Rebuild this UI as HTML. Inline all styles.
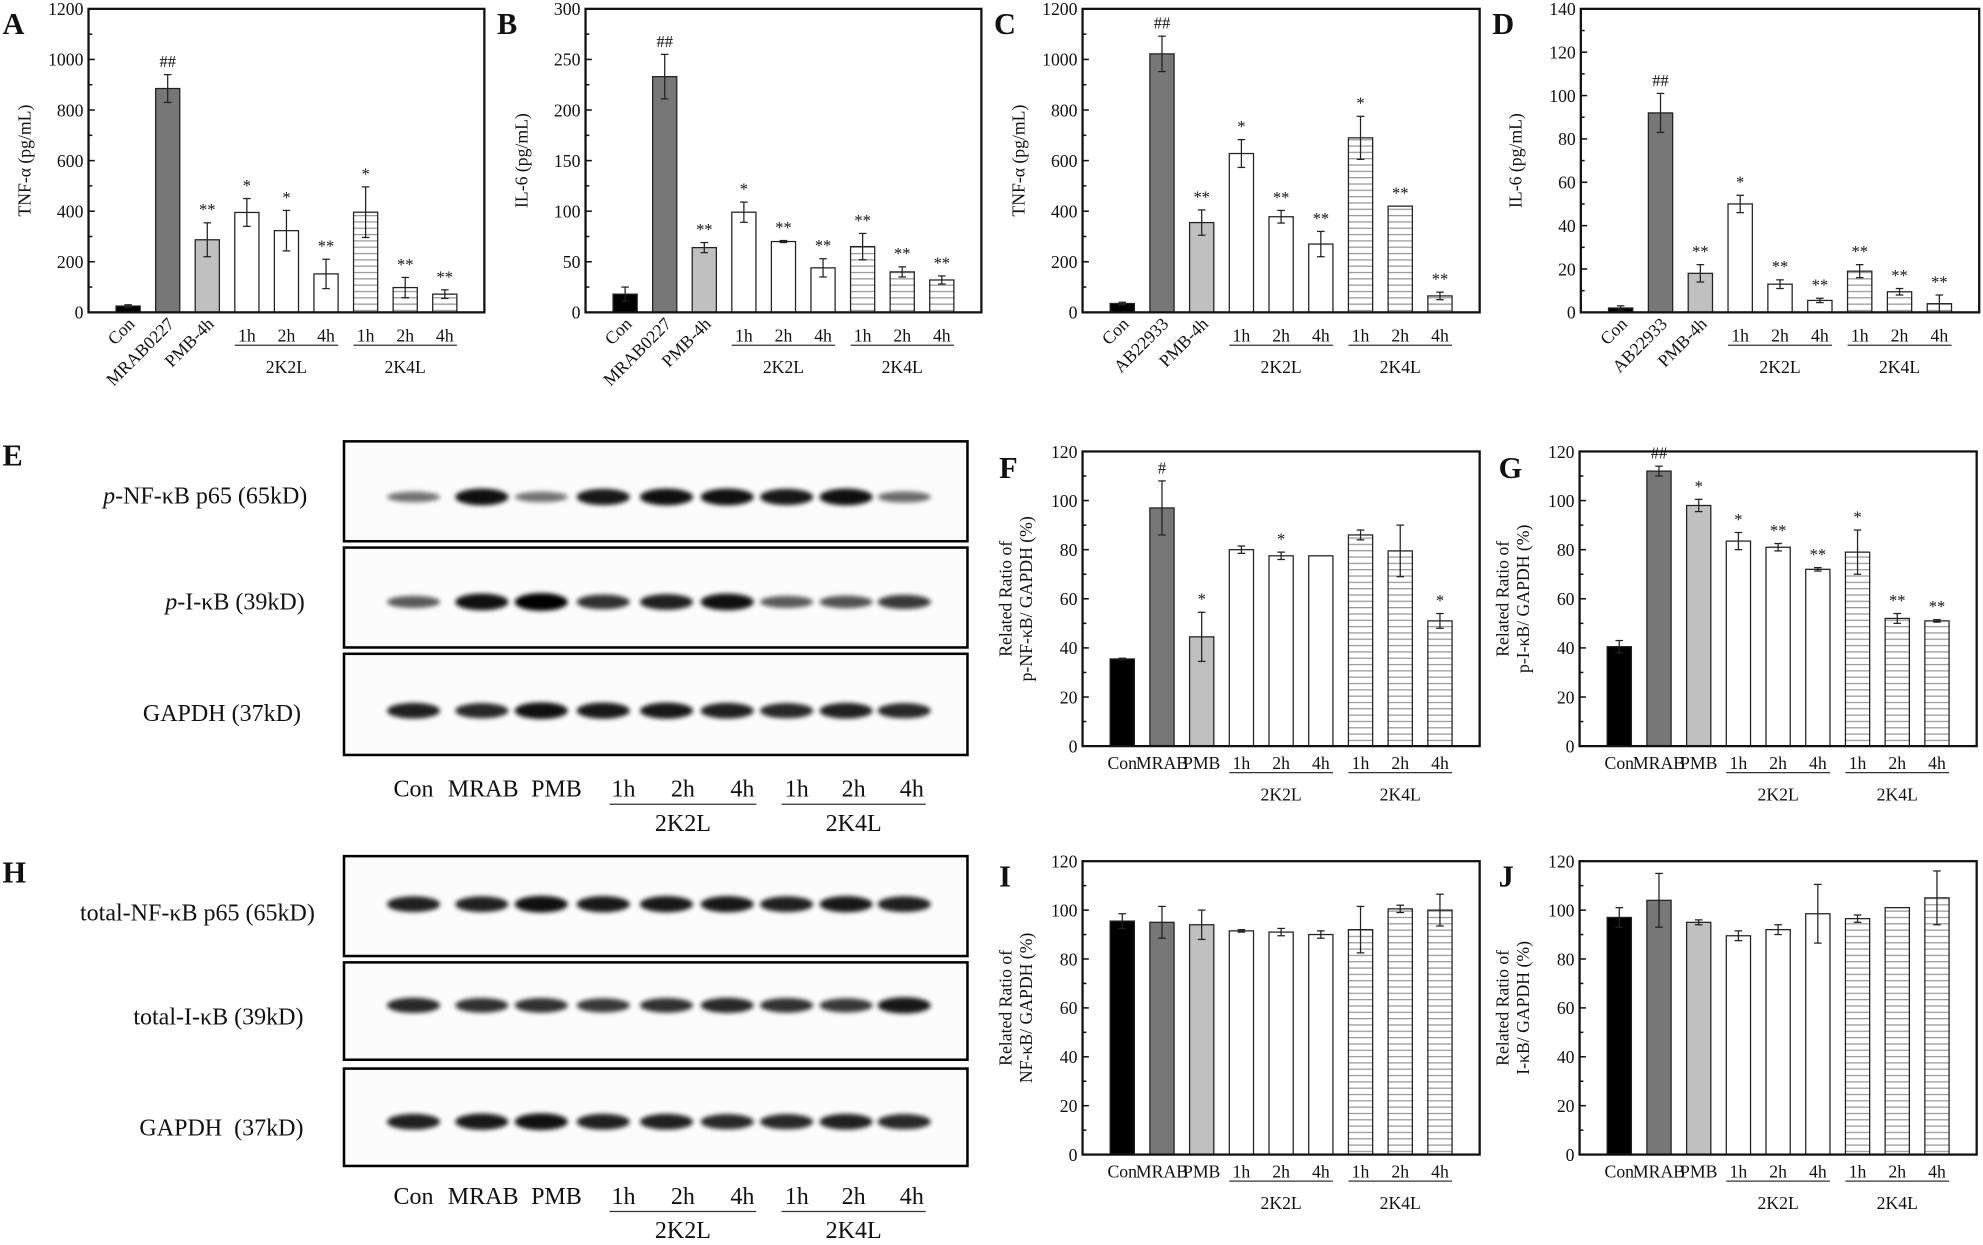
<!DOCTYPE html>
<html><head><meta charset="utf-8"><style>
html,body{margin:0;padding:0;background:#fff;width:1983px;height:1245px;overflow:hidden}
svg{display:block}
text{font-family:"Liberation Serif",serif;fill:#111}
</style></head><body>
<svg id="s" width="1983" height="1245" viewBox="0 0 1568 984.5" preserveAspectRatio="none" xmlns="http://www.w3.org/2000/svg">
<defs>
<pattern id="hatch" patternUnits="userSpaceOnUse" width="10" height="5"><rect width="10" height="5" fill="#fff"/><line x1="0" y1="0.5" x2="10" y2="0.5" stroke="#999" stroke-width="1"/></pattern>
<filter id="bl" x="-50%" y="-100%" width="200%" height="300%"><feGaussianBlur stdDeviation="1.8"/></filter>
</defs>
<g id="g"></g>
</svg>
<script>
var g=document.getElementById('g'),NS='http://www.w3.org/2000/svg';
function el(t,a,txt){var e=document.createElementNS(NS,t);for(var k in a)e.setAttribute(k,a[k]);if(txt!=null)e.textContent=txt;g.appendChild(e);return e;}
var fills=['#000','#777','#c0c0c0','#fff','#fff','#fff','url(#hatch)','url(#hatch)','url(#hatch)'];
function chart(o){
 var x0=o.x0,x1=o.x1,y0=o.y0,y1=o.y1,w=x1-x0,h=y1-y0;
 function sy(v){return y1-v/o.max*h;}
 for(var i=0;i<9;i++){
  var cx=x0+w*(0.1+0.1*i),bw=w*0.061,v=o.v[i],e=o.e[i];
  el('rect',{x:cx-bw/2,y:sy(v),width:bw,height:y1-sy(v),fill:fills[i],stroke:'#222','stroke-width':1});
  if(e>0){el('line',{x1:cx,x2:cx,y1:sy(v+e),y2:sy(v-e),stroke:'#222','stroke-width':1});
   el('line',{x1:cx-3,x2:cx+3,y1:sy(v+e),y2:sy(v+e),stroke:'#222','stroke-width':1});
   el('line',{x1:cx-3,x2:cx+3,y1:sy(v-e),y2:sy(v-e),stroke:'#222','stroke-width':1});}
  if(o.a[i])el('text',{x:cx,y:sy(v+e)-6,'text-anchor':'middle','font-size':o.af||13,fill:'#333'},o.a[i]);
 }
 for(var t=0;t<=o.max+1e-9;t+=o.minor){var yy=sy(t),maj=Math.abs(t/o.major-Math.round(t/o.major))<1e-6;
  el('line',{x1:x0,x2:x0+(maj?5:3),y1:yy,y2:yy,stroke:'#111','stroke-width':1.2});
  if(maj)el('text',{x:x0-4,y:yy+5,'text-anchor':'end','font-size':o.tf||14},String(Math.round(t)));}
 el('rect',{x:x0,y:y0,width:w,height:h,fill:'none',stroke:'#111','stroke-width':1.8});
 var cy=(y0+y1)/2;
 o.yt.forEach(function(s,k){el('text',{x:0,y:0,'text-anchor':'middle','font-size':o.ytf||14,transform:'translate('+(o.ytx+k*16)+','+cy+') rotate(-90)'},s);});
 var c=function(i){return x0+w*(0.1+0.1*i);},bw=w*0.061;
 if(o.big){
  [o.n0,o.n1,'PMB-4h'].forEach(function(s,i){el('text',{x:0,y:0,'text-anchor':'end','font-size':14,transform:'translate('+(c(i)+6)+','+(y1+10)+') rotate(-45)'},s);});
  var yb=y1+23;
  ['1h','2h','4h','1h','2h','4h'].forEach(function(s,k){el('text',{x:c(k+3),y:yb,'text-anchor':'middle','font-size':14},s);});
  el('line',{x1:c(3)-bw/2,x2:c(5)+bw/2,y1:yb+3,y2:yb+3,stroke:'#333'});
  el('line',{x1:c(6)-bw/2,x2:c(8)+bw/2,y1:yb+3,y2:yb+3,stroke:'#333'});
  el('text',{x:c(4),y:yb+25,'text-anchor':'middle','font-size':14},'2K2L');
  el('text',{x:c(7),y:yb+25,'text-anchor':'middle','font-size':14},'2K4L');
 } else {
  var yb=y1+18;
  ['Con','MRAB','PMB','1h','2h','4h','1h','2h','4h'].forEach(function(s,k){el('text',{x:c(k),y:yb,'text-anchor':'middle','font-size':14},s);});
  el('line',{x1:c(3)-bw/2,x2:c(5)+bw/2,y1:yb+3,y2:yb+3,stroke:'#333'});
  el('line',{x1:c(6)-bw/2,x2:c(8)+bw/2,y1:yb+3,y2:yb+3,stroke:'#333'});
  el('text',{x:c(4),y:yb+25,'text-anchor':'middle','font-size':14},'2K2L');
  el('text',{x:c(7),y:yb+25,'text-anchor':'middle','font-size':14},'2K4L');
 }
}
chart({big:1,x0:70,x1:383,y0:7,y1:247,max:1200,major:200,minor:100,v:[25,885,287,395,323,152,396,98,72],e:[5,55,67,55,80,58,100,40,17],a:['','##','**','*','*','**','*','**','**'],yt:['TNF-α (pg/mL)'],ytx:24,n0:'Con',n1:'MRAB0227'});
chart({big:1,x0:463,x1:776,y0:7,y1:247,max:300,major:50,minor:25,v:[18,233,64,99,70,44,65,40,32],e:[7,22,5,10,1,9,13,5,4],a:['','##','**','*','**','**','**','**','**'],yt:['IL-6 (pg/mL)'],ytx:417,n0:'Con',n1:'MRAB0227'});
chart({big:1,x0:856,x1:1170,y0:7,y1:247,max:1200,major:200,minor:100,v:[35,1022,355,628,378,270,690,420,65],e:[5,70,50,55,25,50,85,0,15],a:['','##','**','*','**','**','*','**','**'],yt:['TNF-α (pg/mL)'],ytx:810,n0:'Con',n1:'AB22933'});
chart({big:1,x0:1250,x1:1565,y0:7,y1:247,max:140,major:20,minor:10,v:[2,92,18,50,13,5.5,19,9.5,4],e:[1,9,4,4,2,1,3,1.5,4],a:['','##','**','*','**','**','**','**','**'],yt:['IL-6 (pg/mL)'],ytx:1203,n0:'Con',n1:'AB22933'});
chart({x0:856,x1:1170,y0:357,y1:590,max:120,major:20,minor:10,af:13,v:[35.5,97,44.5,80,77.5,77.5,86,79.5,51],e:[0.3,11,10,1.5,1.5,0,2,10.5,3],a:['','#','*','','*','','','','*'],yt:['Related Ratio of','p-NF-κB/ GAPDH (%)'],ytf:14,ytx:800});
chart({x0:1249,x1:1563,y0:357,y1:590,max:120,major:20,minor:10,af:13,v:[40.5,112,98,83.5,81,72,79,52,51],e:[2.5,2,2.5,3.5,1.5,0.7,9,2,0.5],a:['','##','*','*','**','**','*','**','**'],yt:['Related Ratio of','p-I-κB/ GAPDH (%)'],ytf:14,ytx:1193});
chart({x0:856,x1:1170,y0:681,y1:913,max:120,major:20,minor:10,v:[95.5,95,94,91.5,91,90,92,100.5,100],e:[3,6.5,6,0.5,1.5,1.5,9.5,1.5,6.5],a:['','','','','','','','',''],yt:['Related Ratio of','NF-κB/ GAPDH (%)'],ytf:14,ytx:800});
chart({x0:1249,x1:1563,y0:681,y1:913,max:120,major:20,minor:10,v:[97,104,95,89.5,92,98.5,96.5,101,105],e:[4,11,1,2,2,12,1.5,0,11],a:['','','','','','','','',''],yt:['Related Ratio of','I-κB/ GAPDH (%)'],ytf:14,ytx:1193});
[['A',2,27],['B',393,27],['C',786,27],['D',1180,27],['E',2,368],['F',790,378],['G',1185,378],['H',2,698],['I',790,701],['J',1185,701]].forEach(function(p){el('text',{x:p[1],y:p[2],'font-size':24,'font-weight':'bold',fill:'#000'},p[0]);});
var lanes=[327,381,428,477,527,575,622,669,715];
function blot(y,hh,ints,by){
 el('rect',{x:272,y:y,width:493,height:hh,fill:'#fbfbfb',stroke:'#000','stroke-width':2});
 lanes.forEach(function(x,i){var t=ints[i];el('ellipse',{cx:x,cy:y+by,rx:21,ry:3+4*t,fill:'#000',opacity:0.35+0.65*t,filter:'url(#bl)'});});
}
blot(349,79,[0.3,0.9,0.3,0.85,0.9,0.9,0.85,0.9,0.35],44);
blot(433,79,[0.45,0.9,1,0.7,0.8,0.9,0.45,0.5,0.65],43);
blot(517,80,[0.8,0.75,0.9,0.85,0.85,0.8,0.75,0.8,0.75],45);
blot(677,79,[0.8,0.8,0.9,0.85,0.85,0.85,0.8,0.85,0.8],38);
blot(761,77,[0.75,0.7,0.7,0.65,0.7,0.75,0.7,0.65,0.85],34);
blot(845,77,[0.8,0.85,0.9,0.8,0.8,0.75,0.75,0.8,0.75],42);
function lab(s,x,y,it){var t=el('text',{x:x,y:y,'text-anchor':'end','font-size':19});if(it){var a=document.createElementNS(NS,'tspan');a.setAttribute('font-style','italic');a.textContent='p';t.appendChild(a);}var b=document.createElementNS(NS,'tspan');b.textContent=s;t.appendChild(b);}
lab('-NF-κB p65 (65kD)',243,398,1);lab('-I-κB (39kD)',241,482,1);lab('GAPDH (37kD)',238,570);
lab('total-NF-κB p65 (65kD)',249,728);lab('total-I-κB (39kD)',240,810);lab('GAPDH\u00a0\u00a0(37kD)',240,898);
function bot(y){
 [['Con',327],['MRAB',382],['PMB',440],['1h',493],['2h',540],['4h',587],['1h',630],['2h',675],['4h',721]].forEach(function(p){el('text',{x:p[1],y:p[2]==null?y:y,'text-anchor':'middle','font-size':19},p[0]);});
 el('line',{x1:482,x2:598,y1:y+6,y2:y+6,stroke:'#333'});el('line',{x1:618,x2:732,y1:y+6,y2:y+6,stroke:'#333'});
 el('text',{x:540,y:y+27,'text-anchor':'middle','font-size':19},'2K2L');el('text',{x:675,y:y+27,'text-anchor':'middle','font-size':19},'2K4L');
}
bot(630);bot(952);
</script>
</body></html>
